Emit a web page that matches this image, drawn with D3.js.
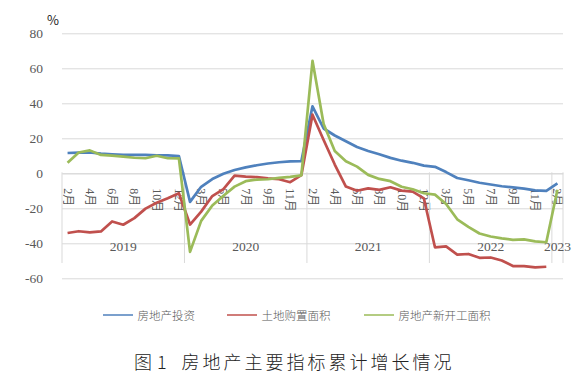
<!DOCTYPE html>
<html><head><meta charset="utf-8">
<script src="https://cdn.jsdelivr.net/npm/d3@7/dist/d3.min.js"></script>
<style>
html,body{margin:0;padding:0;background:#fff;}
svg{display:block;}
</style></head>
<body>
<svg id="chart" width="582" height="379"></svg>
<script>
const years = ["2019","2020","2021","2022","2023"];
const yearMonths = [
  [2,3,4,5,6,7,8,9,10,11,12],
  [2,3,4,5,6,7,8,9,10,11,12],
  [2,3,4,5,6,7,8,9,10,11,12],
  [2,3,4,5,6,7,8,9,10,11,12],
  [2]
];
const seriesNames = ["房地产投资","土地购置面积","房地产新开工面积"];
const investment = [
  11.6, 11.8, 11.9, 11.2, 10.9, 10.6, 10.5, 10.5, 10.3, 10.2, 9.9,
  -16.3, -7.7, -3.3, -0.3, 1.9, 3.4, 4.6, 5.6, 6.3, 6.8, 7.0,
  38.3, 25.6, 21.6, 18.3, 15.0, 12.7, 10.9, 8.8, 7.2, 6.0, 4.4,
  3.7, 0.7, -2.7, -4.0, -5.4, -6.4, -7.4, -8.0, -8.8, -9.8, -10.0,
  -5.7
];
const landPurchase = [
  -34.1, -33.1, -33.8, -33.2, -27.5, -29.4, -25.6, -20.2, -16.8, -14.2, -11.4,
  -29.3, -21.9, -13.0, -9.0, -1.3, -1.9, -2.2, -2.9, -3.4, -5.1, -1.1,
  33.5, 19.0, 5.0, -7.6, -10.0, -8.6, -9.5, -8.0, -9.9, -10.5, -14.3,
  -42.3, -41.8, -46.5, -46.1, -48.3, -48.1, -49.8, -53.0, -53.0, -53.8, -53.4,
  null
];
const newStarts = [
  6.0, 11.9, 13.1, 10.5, 10.1, 9.5, 8.9, 8.6, 10.0, 8.6, 8.5,
  -44.9, -27.2, -18.4, -12.8, -7.6, -4.5, -3.6, -3.4, -2.6, -2.0, -1.2,
  64.3, 28.2, 12.8, 6.9, 3.8, -0.9, -3.2, -4.5, -7.7, -9.1, -11.4,
  -12.2, -17.5, -26.3, -30.6, -34.4, -36.1, -37.2, -38.0, -37.8, -38.9, -39.4,
  -9.4
];
const yTicks = [-60,-40,-20,0,20,40,60,80];
const colors = ["#4F81BD","#C0504D","#9BBB59"];

// build categories
const categories = [];
years.forEach((yr,yi)=>yearMonths[yi].forEach(m=>categories.push({year:yr, month:m})));
const seriesData = [investment, landPurchase, newStarts];

const svg = d3.select("#chart");
const left = 62, right = 563;
const x = d3.scaleBand().domain(d3.range(categories.length)).range([left,right]);
const cx = i => x(i) + x.bandwidth()/2;
const y = d3.scaleLinear().domain([-60,80]).range([278.3,33.3]);
const grid = "#d9d9d9";
const serif = "'Liberation Serif','Noto Sans CJK SC',serif";
const sans = "'Noto Sans CJK SC','Noto Sans',sans-serif";

// Y axis with gridlines
const yAxis = svg.append("g").attr("transform",`translate(${left},0)`)
  .call(d3.axisLeft(y).tickValues(yTicks).tickSize(-(right-left)).tickPadding(19).tickFormat(d=>d));
yAxis.select(".domain").remove();
yAxis.selectAll("line").attr("stroke",grid).attr("stroke-width",1);
yAxis.selectAll("text").attr("fill","#595959").style("font-family",serif).style("font-size","13.5px");

// percent unit
svg.append("text").attr("x",47).attr("y",25).text("%")
  .style("font-family",sans).style("font-size","13px").attr("fill","#222");

// Category axis at 0
const y0 = y(0);
const xAxis = svg.append("g").attr("transform",`translate(0,${y0})`)
  .call(d3.axisBottom(x).tickValues(d3.range(0,categories.length,2)).tickSize(0)
    .tickFormat(i=>categories[i].month+"月"));
xAxis.select(".domain").attr("stroke",grid);
xAxis.selectAll(".tick text")
  .attr("y",0).attr("dy",null)
  .attr("transform","translate(0,15) rotate(90)")
  .attr("text-anchor","start")
  .attr("dominant-baseline","central")
  .attr("fill","#595959")
  .style("font-family",serif).style("font-size","12px");

// year group separators & labels
let start = 0;
const bounds = [];
yearMonths.forEach((ms,yi)=>{ bounds.push([start, start+ms.length]); start += ms.length; });
const sepX = bounds.map(b=>x(b[0])).concat([right]);
svg.append("g").selectAll("line").data(sepX).join("line")
  .attr("x1",d=>d).attr("x2",d=>d).attr("y1",y0-1).attr("y2",263)
  .attr("stroke",grid).attr("stroke-width",1);
svg.append("g").selectAll("text").data(bounds).join("text")
  .attr("x",(b)=> (x(b[0]) + (b[1]<categories.length ? x(b[1]) : right))/2)
  .attr("y",251).attr("text-anchor","middle")
  .text((b,i)=>years[i])
  .attr("fill","#595959").style("font-family",serif).style("font-size","13.5px");

// lines
const line = d3.line().defined(d=>d!=null).x((d,i)=>cx(i)).y(d=>y(d));
svg.append("g").selectAll("path").data(seriesData).join("path")
  .attr("d",d=>line(d)).attr("fill","none")
  .attr("stroke",(d,i)=>colors[i]).attr("stroke-width",2.7)
  .attr("stroke-linejoin","round");

// legend
const legendX = [103,227,364];
const lg = svg.append("g").selectAll("g").data(seriesNames).join("g")
  .attr("transform",(d,i)=>`translate(${legendX[i]},315)`);
lg.append("line").attr("x1",0).attr("x2",30).attr("y1",0).attr("y2",0)
  .attr("stroke",(d,i)=>colors[i]).attr("stroke-width",1.5);
lg.append("text").attr("x",34.5).attr("y",0).attr("dominant-baseline","central")
  .text(d=>d).attr("fill","#595959").style("font-family",sans).style("font-size","11.5px")
  .style("font-weight",300);

// title
const title = svg.append("text").attr("y",369).attr("fill","#222")
  .style("font-family",sans).style("font-size","18px").style("font-weight",300);
title.append("tspan").attr("x",134).text("图");
title.append("tspan").attr("x",157).text("1");
title.append("tspan").attr("x",181.5).style("letter-spacing","3px").text("房地产主要指标累计增长情况");
</script>
</body></html>
